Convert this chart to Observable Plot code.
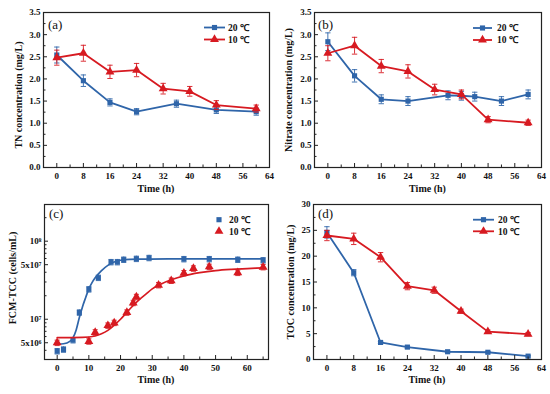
<!DOCTYPE html>
<html><head><meta charset="utf-8">
<script src="https://cdn.jsdelivr.net/npm/d3@7"></script>
<script src="https://cdn.jsdelivr.net/npm/@observablehq/plot@0.6"></script>
<style>
body{margin:0;background:#fff;}
#wrap{position:relative;width:550px;height:394px;overflow:hidden;}
#wrap svg{position:absolute;}
</style></head><body><div id="wrap"></div>
<script>
const BLUE = "#2f65a9", RED = "#d71a21";
const FONT = "'Liberation Serif','Times New Roman',serif";

// Panel (a) TN
const tnTime20 = [0, 8, 16, 24, 36, 48, 60];
const tn20 = [2.54, 1.96, 1.47, 1.26, 1.44, 1.30, 1.26];
const tn20Err = [0.18, 0.13, 0.08, 0.07, 0.08, 0.08, 0.08];
const tnTime10 = [0, 8, 16, 24, 32, 40, 48, 60];
const tn10 = [2.48, 2.58, 2.16, 2.20, 1.78, 1.72, 1.41, 1.33];
const tn10Err = [0.17, 0.18, 0.15, 0.15, 0.12, 0.11, 0.10, 0.08];

// Panel (b) Nitrate
const nitTime20 = [0, 8, 16, 24, 36, 40, 44, 52, 60];
const nit20 = [2.84, 2.07, 1.54, 1.50, 1.63, 1.62, 1.60, 1.50, 1.65];
const nit20Err = [0.20, 0.14, 0.10, 0.10, 0.10, 0.10, 0.10, 0.10, 0.10];
const nitTime10 = [0, 8, 16, 24, 32, 40, 48, 60];
const nit10 = [2.58, 2.75, 2.29, 2.17, 1.76, 1.65, 1.08, 1.01];
const nit10Err = [0.17, 0.19, 0.15, 0.15, 0.12, 0.10, 0.07, 0.06];

// Panel (c) FCM-TCC
const fcmTime20 = [0, 2, 5, 7, 10, 13, 17, 19, 21, 25, 29, 40, 48, 57, 65];
const fcm20 = [3.9e6, 4.1e6, 5.4e6, 1.22e7, 2.42e7, 3.4e7, 5.4e7, 5.4e7, 5.8e7, 5.95e7, 6.1e7, 5.9e7, 5.9e7, 5.8e7, 5.7e7];
const fcmTime10 = [0, 10, 12, 16, 18, 22, 24, 25, 32, 36, 40, 43, 48, 57, 65];
const fcm10 = [5.0e6, 5.2e6, 6.8e6, 8.3e6, 9.0e6, 1.22e7, 1.62e7, 1.93e7, 2.74e7, 3.12e7, 3.9e7, 4.47e7, 4.7e7, 3.94e7, 4.66e7];
const fcmRelErr = 0.08;
const fitTime20 = [0, 2, 4, 5, 6, 7, 8, 9, 10, 11, 12, 14, 16, 18, 20, 23, 27, 35, 65];
const fit20 = [4.8e6, 4.85e6, 5.2e6, 5.8e6, 7.3e6, 1.05e7, 1.45e7, 1.9e7, 2.45e7, 2.95e7, 3.4e7, 4.2e7, 4.9e7, 5.4e7, 5.7e7, 5.85e7, 5.9e7, 5.95e7, 5.95e7];
const fitTime10 = [0, 8, 12, 14, 16, 18, 20, 22, 24, 26, 28, 30, 33, 36, 40, 45, 50, 55, 60, 65];
const fit10 = [5.8e6, 5.85e6, 6.1e6, 6.5e6, 7.2e6, 8.4e6, 1.0e7, 1.23e7, 1.5e7, 1.8e7, 2.1e7, 2.45e7, 2.85e7, 3.2e7, 3.6e7, 3.95e7, 4.2e7, 4.35e7, 4.45e7, 4.55e7];

// Panel (d) TOC
const tocTime20 = [0, 8, 16, 24, 36, 48, 60];
const toc20 = [24.6, 16.8, 3.3, 2.4, 1.5, 1.4, 0.65];
const toc20Err = [1.1, 0.6, 0.2, 0.2, 0.15, 0.15, 0.15];
const tocTime10 = [0, 8, 16, 24, 32, 40, 48, 60];
const toc10 = [24.0, 23.35, 19.8, 14.2, 13.4, 9.35, 5.4, 4.9];
const toc10Err = [1.0, 1.1, 0.9, 0.7, 0.6, 0.4, 0.3, 0.3];

// tick values
const xTicks64 = [0, 8, 16, 24, 32, 40, 48, 56, 64];
const xMinor64 = [4, 12, 20, 28, 36, 44, 52, 60];
const xTicksC = [0, 10, 20, 30, 40, 50, 60];
const xMinorC = [5, 15, 25, 35, 45, 55, 65];
const yTicksN = [0, 0.5, 1.0, 1.5, 2.0, 2.5, 3.0, 3.5];
const yMinorN = [0.25, 0.75, 1.25, 1.75, 2.25, 2.75, 3.25];
const yTicksC = [5e6, 1e7, 5e7, 1e8];
const yTickLabelsC = ["5x10\u2076", "10\u2077", "5x10\u2077", "10\u2078"];
const yMinorC = [4e6, 6e6, 7e6, 8e6, 9e6, 2e7, 3e7, 4e7, 6e7, 7e7, 8e7, 9e7, 2e8];
const yTicksD = [0, 5, 10, 15, 20, 25, 30];
const yMinorD = [2.5, 7.5, 12.5, 17.5, 22.5, 27.5];

const series = ["20 \u2103", "10 \u2103"];

function rows(xs, ys, es) { return xs.map((x, i) => ({x, y: ys[i], e: es ? es[i] : 0})); }

function panel(o) {
  const W = 275, H = 197;
  const pw = W - o.ml - o.mr, ph = H - o.mt - o.mb;
  const marks = [];
  const ylog = o.yType === "log";
  for (const s of o.series) {
    const d = s.data;
    const lo = d2 => ylog ? d2.y * (1 - o.relErr) : d2.y - d2.e;
    const hi = d2 => ylog ? d2.y * (1 + o.relErr) : d2.y + d2.e;
    const cw = o.capW;
    marks.push(Plot.ruleX(d, {x: "x", y1: lo, y2: hi, stroke: s.color, strokeWidth: 0.9}));
    marks.push(Plot.link(d, {x1: d2 => d2.x - cw, x2: d2 => d2.x + cw, y1: lo, y2: lo, stroke: s.color, strokeWidth: 0.9}));
    marks.push(Plot.link(d, {x1: d2 => d2.x - cw, x2: d2 => d2.x + cw, y1: hi, y2: hi, stroke: s.color, strokeWidth: 0.9}));
    if (s.curve) marks.push(Plot.line(s.curve, {x: "x", y: "y", stroke: s.color, strokeWidth: 1.7, curve: "monotone-x"}));
    if (!s.noLine) marks.push(Plot.line(d, {x: "x", y: "y", stroke: s.color, strokeWidth: 1.8}));
    marks.push(Plot.dot(d, {x: "x", y: "y", symbol: s.symbol, fill: s.color, stroke: "none", r: s.symbol === "triangle" ? 3.3 : 2.9}));
  }
  marks.push(Plot.tickX(o.xMajor, {x: d => d, insetTop: ph - 4, stroke: "#222", strokeWidth: 1}));
  marks.push(Plot.tickX(o.xMinor.filter(v => v <= o.xDomain[1]), {x: d => d, insetTop: ph - 2.5, stroke: "#222", strokeWidth: 1}));
  marks.push(Plot.tickY(o.yMajor, {y: d => d, insetRight: pw - 4, stroke: "#222", strokeWidth: 1}));
  marks.push(Plot.tickY(o.yMinor, {y: d => d, insetRight: pw - 2.5, stroke: "#222", strokeWidth: 1}));
  marks.push(Plot.frame({stroke: "#222", strokeWidth: 1.2}));
  marks.push(Plot.axisX({ticks: o.xMajor, tickSize: 0, tickPadding: 5, label: null, tickFormat: d => String(d)}));
  marks.push(Plot.axisY({ticks: o.yMajor, tickSize: 0, tickPadding: 3, label: null, tickFormat: o.yFormat}));
  const svg = Plot.plot({
    width: W, height: H,
    marginLeft: o.ml, marginRight: o.mr, marginTop: o.mt, marginBottom: o.mb,
    style: {fontFamily: FONT, fontSize: "9px", fontWeight: "bold", color: "#111", background: "transparent", overflow: "visible"},
    x: {domain: o.xDomain},
    y: {type: o.yType || "linear", domain: o.yDomain},
    marks
  });
  svg.style.left = o.left + "px";
  svg.style.top = o.top + "px";
  document.getElementById("wrap").appendChild(svg);
  const g = d3.select(svg).append("g").attr("font-family", FONT).attr("fill", "#111").attr("text-anchor", "start");
  // axis titles
  g.append("text").attr("x", o.ml + pw / 2).attr("y", o.xTitleY).attr("text-anchor", "middle")
    .attr("font-size", 10).attr("font-weight", "bold").text("Time (h)");
  g.append("text").attr("transform", `translate(${o.yTitleX},${o.yTitleCy}) rotate(-90)`)
    .attr("text-anchor", "middle").attr("dy", "0.35em")
    .attr("font-size", 10).attr("font-weight", "bold").text(o.yTitle);
  // panel tag
  g.append("text").attr("x", o.tag[1]).attr("y", o.tag[2]).attr("dy", "0.35em").attr("text-anchor", "start")
    .attr("font-size", 13).attr("font-weight", "normal").text(o.tag[0]);
  // legend
  o.series.forEach((s, i) => {
    const ly = o.leg.y[i];
    if (!s.noLine) {
      g.append("line").attr("x1", o.leg.x1).attr("x2", o.leg.x2).attr("y1", ly).attr("y2", ly)
        .attr("stroke", s.color).attr("stroke-width", 1.8);
    }
    const cx = (o.leg.x1 + o.leg.x2) / 2;
    const sym = s.symbol === "triangle" ? d3.symbolTriangle : d3.symbolSquare;
    const size = s.symbol === "triangle" ? 3.3 * 3.3 * Math.PI : 2.9 * 2.9 * Math.PI;
    g.append("path").attr("d", d3.symbol(sym, size)()).attr("transform", `translate(${cx},${ly})`).attr("fill", s.color);
    g.append("text").attr("x", o.leg.tx).attr("y", ly).attr("dy", "0.35em").attr("text-anchor", "start")
      .attr("font-size", 9.5).attr("font-weight", "bold").text(series[i]);
  });
}

const fmtN = d => d.toFixed(1);

panel({
  left: 0, top: 0, ml: 43, mr: 6, mt: 12, mb: 30,
  xDomain: [-4, 64], yDomain: [0, 3.5],
  xMajor: xTicks64, xMinor: xMinor64, yMajor: yTicksN, yMinor: yMinorN, yFormat: fmtN, capW: 0.8,
  series: [
    {data: rows(tnTime20, tn20, tn20Err), color: BLUE, symbol: "square"},
    {data: rows(tnTime10, tn10, tn10Err), color: RED, symbol: "triangle"}
  ],
  xTitleY: 192, yTitleX: 18, yTitleCy: 95, yTitle: "TN concentration (mg/L)",
  tag: ["(a)", 48, 24],
  leg: {x1: 204, x2: 225, tx: 228, y: [27.5, 39.5]}
});

panel({
  left: 275, top: 0, ml: 39, mr: 9, mt: 12, mb: 30,
  xDomain: [-4, 64], yDomain: [0, 3.5],
  xMajor: xTicks64, xMinor: xMinor64, yMajor: yTicksN, yMinor: yMinorN, yFormat: fmtN, capW: 0.8,
  series: [
    {data: rows(nitTime20, nit20, nit20Err), color: BLUE, symbol: "square"},
    {data: rows(nitTime10, nit10, nit10Err), color: RED, symbol: "triangle"}
  ],
  xTitleY: 192, yTitleX: 13, yTitleCy: 90, yTitle: "Nitrate concentration (mg/L)",
  tag: ["(b)", 43, 24],
  leg: {x1: 198, x2: 217, tx: 222, y: [28, 40]}
});

panel({
  left: 0, top: 197, ml: 44, mr: 7, mt: 7, mb: 35,
  xDomain: [-4, 66.7], yType: "log", yDomain: [3.05e6, 2.95e8], relErr: fcmRelErr,
  xMajor: xTicksC, xMinor: xMinorC, yMajor: yTicksC, yMinor: yMinorC,
  yFormat: d => yTickLabelsC[yTicksC.indexOf(d)], capW: 0.8,
  series: [
    {data: rows(fcmTime20, fcm20), curve: rows(fitTime20, fit20), color: BLUE, symbol: "square", noLine: true},
    {data: rows(fcmTime10, fcm10), curve: rows(fitTime10, fit10), color: RED, symbol: "triangle", noLine: true}
  ],
  xTitleY: 186, yTitleX: 12, yTitleCy: 81, yTitle: "FCM-TCC (cells/mL)",
  tag: ["(c)", 49, 16],
  leg: {x1: 214, x2: 224, tx: 229, y: [22.7, 34.3]}
});

panel({
  left: 275, top: 197, ml: 38, mr: 9, mt: 7, mb: 35,
  xDomain: [-4, 64], yDomain: [0, 30],
  xMajor: xTicks64, xMinor: xMinor64, yMajor: yTicksD, yMinor: yMinorD, yFormat: d => String(d), capW: 0.8,
  series: [
    {data: rows(tocTime20, toc20, toc20Err), color: BLUE, symbol: "square"},
    {data: rows(tocTime10, toc10, toc10Err), color: RED, symbol: "triangle"}
  ],
  xTitleY: 186, yTitleX: 15, yTitleCy: 85, yTitle: "TOC concentration (mg/L)",
  tag: ["(d)", 43, 16],
  leg: {x1: 198, x2: 219, tx: 223, y: [22.7, 34.3]}
});
</script></body></html>
